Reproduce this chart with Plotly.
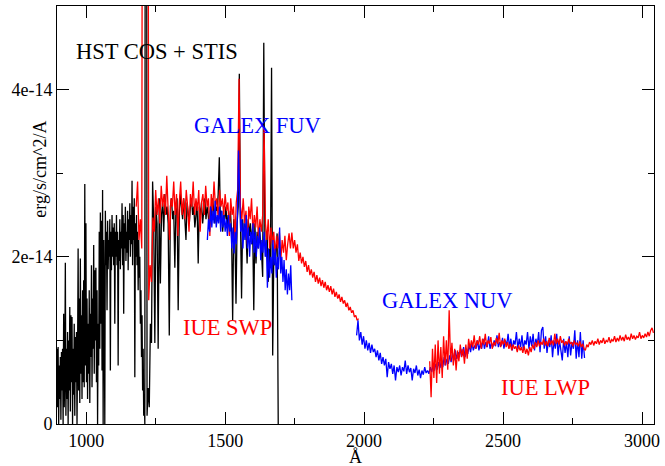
import numpy as np
import plotly.graph_objects as go

# ---------------- data (flux in units of 1e-14 erg/s/cm^2/A) ----------------
# HST COS + STIS, short-wavelength part (fine sampling)
hst_a_start, hst_a_step = 895, 2
hst_a_flux = [
    0.9, 0.2, 0.92, 0.0, 0.7, 0.3, 0.8, 0.05, 0.86, 0.4,
    0.9, 0.0, 1.32, 0.2, 0.6, 1.93, 0.1, 0.9, 0.3, 1.1,
    0.0, 1.0, 0.4, 1.4, 0.15, 1.3, 0.5, 1.28, 0.0, 0.9,
    0.35, 1.2, 0.1, 1.04, 0.5, 1.1, 0.0, 0.8, 2.1, 0.4,
    1.5, 0.25, 1.98, 0.6, 1.3, 0.3, 1.6, 0.5, 1.72, 0.44,
    2.87, 0.7, 2.4, 0.5, 1.5, 0.3, 1.2, 0.6, 1.6, 0.25,
    1.32, 0.8, 1.9, 0.44, 1.5, 0.9, 2.14, 0.6, 1.84, 1.0,
    1.87, 0.5, 1.6, 0.0, 1.2, 0.7, 2.3, 0.9, 2.53, 1.2,
    2.43, 0.64, 2.8, 0.0, 2.2, 1.4, 0.0, 2.55, 1.9, 2.3,
    1.36, 2.43, 1.85, 2.2, 2.0, 2.45, 0.64, 2.3, 1.84, 2.5,
    2.0, 2.35, 1.9, 2.4, 1.2, 2.3, 2.0, 2.5, 1.9, 2.3,
    0.7, 2.2, 1.95, 2.45, 1.85, 2.3, 2.1, 2.64, 1.9, 2.5,
    1.32, 2.4, 2.1, 2.6, 1.95, 2.3, 2.05, 2.55, 1.84, 2.45,
    2.2, 2.64, 2.0, 2.5, 2.15, 2.91, 1.9, 2.6, 2.2, 2.7,
    0.56, 2.4, 2.0, 2.5, 1.9, 2.3, 1.6, 2.2, 1.75, 2.0,
    1.2, 1.6, 0.8, 1.3, 0.4, 0.9, 0.1, 0.3, 0.0,
]
# HST COS + STIS, long-wavelength part
hst_b_start, hst_b_step = 1215, 4
hst_b_flux = [
    20.0, 0.1, 0.43, 0.2, 1.2, 0.97, 2.9, 2.4, 0.97, 2.6,
    2.4, 0.9, 2.7, 1.68, 2.5, 2.65, 2.3, 2.75, 2.5, 2.6,
    2.4, 1.06, 2.6, 2.7, 2.45, 2.55, 1.87, 2.6, 2.7, 1.36,
    2.5, 2.75, 2.6, 2.45, 2.7, 2.5, 2.2, 2.65, 2.55, 2.4,
    2.6, 2.7, 2.5, 2.6, 2.35, 2.55, 2.65, 1.92, 2.6, 2.5,
    2.65, 2.4, 2.55, 2.7, 2.45, 2.6, 2.5, 2.35, 2.6, 2.45,
    2.7, 2.5, 2.4, 2.6, 2.55, 2.75, 3.19, 2.4, 2.55, 2.3,
    2.5, 2.45, 2.6, 2.35, 2.5, 2.4, 2.55, 2.3, 1.24, 2.45,
    2.3, 1.44, 2.4, 2.6, 4.19, 2.5, 1.5, 2.45, 2.2, 2.4,
    2.3, 1.92, 2.45, 2.25, 2.4, 2.15, 2.35, 1.36, 2.4, 1.92,
    2.3, 2.1, 2.35, 2.2, 2.05, 1.76, 4.56, 2.2, 2.0, 2.3,
    1.7, 2.1, 1.9, 4.26, 0.82, 2.0, 1.9, 2.1, 2.28, 0.0,
]

swp_start, swp_step = 1180, 5
swp_flux = [
    2.6, 2.9, 2.2, 2.45, 2.1, 15.0, 15.0, 15.0, 15.0, 1.48,
    1.9, 1.7, 2.47, 2.3, 2.8, 2.5, 2.7, 2.4, 2.85, 2.6,
    2.75, 2.5, 2.97, 2.55, 2.2, 2.7, 2.6, 2.9, 2.5, 2.75,
    2.25, 2.65, 2.9, 2.5, 2.7, 2.45, 2.8, 2.6, 2.3, 2.75,
    2.6, 2.9, 2.5, 2.7, 2.55, 2.8, 2.3, 2.65, 2.75, 2.5,
    2.85, 2.6, 2.7, 2.25, 2.75, 2.55, 2.9, 2.6, 2.7, 2.45,
    2.8, 2.6, 2.7, 2.5, 2.75, 2.55, 2.65, 2.25, 2.7, 2.5,
    2.6, 2.2, 2.65, 2.8, 4.13, 2.6, 2.45, 2.7, 2.4, 2.55,
    2.15, 2.6, 2.45, 2.7, 2.3, 2.5, 2.35, 2.6, 2.2, 2.45,
    2.3, 2.5, 3.55, 2.4, 2.2, 2.45, 2.1, 2.35, 2.15, 2.3,
    2.0, 2.25, 2.1, 2.3, 1.95, 2.2, 2.05, 2.25, 1.96, 2.15,
    2.28, 2.1, 2.29, 2.1, 2.2, 2.05, 2.15, 1.95, 2.05, 1.92,
    2.0, 1.88, 1.95, 1.82, 1.9, 1.78, 1.85, 1.75, 1.82, 1.7,
    1.78, 1.68, 1.75, 1.65, 1.72, 1.63, 1.7, 1.6, 1.66, 1.58,
    1.65, 1.55, 1.62, 1.52, 1.58, 1.5, 1.55, 1.46, 1.52, 1.44,
    1.48, 1.4, 1.45, 1.36, 1.4, 1.33, 1.36, 1.28, 1.3, 1.24,
    1.26,
]

fuv_start, fuv_step = 1436, 4
fuv_flux = [
    2.2, 2.45, 2.3, 2.6, 2.35, 2.55, 2.4, 2.67, 2.35, 2.5,
    2.4, 2.6, 2.3, 2.55, 2.35, 2.5, 2.3, 2.45, 2.25, 2.5,
    2.3, 2.4, 2.1, 2.35, 2.04, 2.3, 2.15, 2.5, 3.27, 2.6,
    2.3, 2.45, 2.1, 2.4, 2.2, 2.5, 2.1, 2.35, 2.0, 2.3,
    2.15, 2.4, 2.05, 2.3, 2.0, 2.25, 2.1, 2.35, 1.96, 2.2,
    2.05, 2.3, 2.0, 2.2, 1.63, 2.1, 1.75, 2.0, 1.8, 2.2,
    1.9, 2.1, 1.75, 2.0, 1.85, 2.35, 1.8, 2.0, 1.7, 1.96,
    1.6, 1.85, 1.55, 1.8, 1.6, 1.9, 1.48,
]

nuv_start, nuv_step = 1973, 5
nuv_flux = [
    1.06, 1.24, 1.0, 1.1, 0.95, 1.05, 0.9, 1.0, 0.88, 0.97,
    0.85, 0.95, 0.86, 0.9, 0.8, 0.88, 0.76, 0.85, 0.72, 0.8,
    0.7, 0.78, 0.56, 0.74, 0.66, 0.72, 0.6, 0.7, 0.52, 0.68,
    0.62, 0.7, 0.58, 0.68, 0.63, 0.76, 0.6, 0.7, 0.62, 0.67,
    0.52, 0.66, 0.61, 0.7, 0.58, 0.65, 0.55, 0.64, 0.59, 0.68,
    0.61, 0.64, 0.6, 0.68, 0.62, 0.7, 0.64, 0.72, 0.65, 0.74,
    0.67, 0.76, 0.68, 0.8, 0.7, 0.78, 0.72, 0.82, 0.74, 0.85,
    0.76, 0.88, 0.78, 0.86, 0.8, 0.9, 0.82, 0.92, 0.8, 0.9,
    0.84, 0.95, 0.86, 0.97, 0.88, 0.94, 0.9, 1.0, 0.88, 0.96,
    0.9, 1.02, 0.9, 0.98, 0.92, 1.05, 0.9, 0.97, 0.92, 1.0,
    0.93, 1.06, 0.92, 0.98, 0.93, 1.03, 0.9, 1.0, 0.94, 1.08,
    0.92, 1.02, 0.88, 1.0, 0.95, 1.1, 0.9, 1.02, 0.92, 1.06,
    0.88, 1.0, 0.95, 1.1, 0.9, 1.05, 0.93, 1.08, 0.88, 1.02,
    0.94, 1.1, 0.86, 1.12, 1.16, 0.9, 1.05, 0.85, 1.0, 0.92,
    1.06, 0.8, 1.0, 0.9, 1.08, 0.82, 1.0, 0.88, 0.76, 1.02,
    0.85, 0.98, 0.8, 1.05, 0.82, 0.98, 0.9, 1.12, 0.78, 1.0,
    0.8, 1.1, 0.78, 1.0, 0.79,
]

lwp_start, lwp_step = 2236, 5
lwp_flux = [
    0.75, 0.32, 0.9, 0.55, 0.95, 0.49, 1.0, 0.6, 0.92, 0.55,
    1.05, 0.7, 1.0, 0.65, 1.36, 0.75, 0.97, 0.7, 0.9, 0.64,
    0.88, 0.75, 0.95, 0.8, 0.9, 0.72, 0.95, 0.78, 1.02, 0.9,
    1.0, 0.92, 1.06, 0.9, 1.0, 0.95, 1.05, 0.9, 1.02, 0.95,
    1.08, 0.92, 1.0, 0.96, 1.04, 0.9, 0.98, 0.94, 1.03, 0.96,
    1.09, 0.92, 1.0, 0.95, 1.02, 0.92, 0.98, 0.9, 0.96, 0.88,
    0.95, 0.9, 0.93, 0.86, 0.94, 0.88, 0.92, 0.85, 0.93, 0.84,
    0.9, 0.82, 0.92, 0.86, 0.95, 0.9, 0.98, 0.92, 1.0, 0.93,
    0.98, 0.95, 1.02, 0.94, 0.99, 0.93, 1.03, 0.95, 1.0, 0.94,
    1.08, 0.96, 1.02, 0.95, 1.05, 0.97, 1.0, 0.94, 0.99, 0.95,
    1.02, 0.96, 0.98, 0.93, 1.0, 0.95, 0.97, 0.93, 0.99, 0.92,
    0.96, 0.9, 0.88, 0.95, 0.92, 0.98, 0.95, 1.0, 0.94, 0.99,
    0.96, 1.02, 0.95, 1.0, 0.97, 1.03, 0.96, 1.0, 0.98, 1.04,
    0.97, 1.01, 0.99, 1.05, 0.98, 1.03, 0.99, 1.06, 1.0, 1.04,
    0.99, 1.07, 1.01, 1.04, 1.0, 1.08, 1.02, 1.06, 1.01, 1.05,
    1.03, 1.1, 1.02, 1.06, 1.03, 1.08, 1.04, 1.1, 1.05, 1.12,
    1.15, 1.09,
]

x_tick_vals = [1000, 1500, 2000, 2500, 3000]
y_tick_vals = [0, 2e-14, 4e-14]
y_tick_text = ["0", "2e-14", "4e-14"]

labels = ["HST COS + STIS", "GALEX FUV", "IUE SWP", "GALEX NUV", "IUE LWP"]
label_colors = ["black", "blue", "red", "blue", "red"]
label_x = [1255, 1617, 1507, 2299, 2652]
label_y = [4.45e-14, 3.57e-14, 1.15e-14, 1.48e-14, 0.44e-14]

UNIT = 1e-14


def wl(start, step, vals):
    return start + step * np.arange(len(vals))


hst_x = np.concatenate([wl(hst_a_start, hst_a_step, hst_a_flux),
                        wl(hst_b_start, hst_b_step, hst_b_flux)])
hst_y = np.array(hst_a_flux + hst_b_flux) * UNIT

series = [
    (hst_x, hst_y, "black"),
    (wl(swp_start, swp_step, swp_flux), np.array(swp_flux) * UNIT, "red"),
    (wl(fuv_start, fuv_step, fuv_flux), np.array(fuv_flux) * UNIT, "blue"),
    (wl(nuv_start, nuv_step, nuv_flux), np.array(nuv_flux) * UNIT, "blue"),
    (wl(lwp_start, lwp_step, lwp_flux), np.array(lwp_flux) * UNIT, "red"),
]

fig = go.Figure()
for xs, ys, col in series:
    fig.add_trace(go.Scatter(
        x=xs, y=ys, mode="lines",
        line=dict(color=col, width=1.3), showlegend=False, hoverinfo="skip"))

FONT = "Liberation Serif"

for t, c, lx, ly in zip(labels, label_colors, label_x, label_y):
    fig.add_annotation(x=lx, y=ly, xref="x", yref="y", text=t, showarrow=False,
                       font=dict(family=FONT, size=22.5, color=c),
                       xanchor="center", yanchor="middle")

fig.add_annotation(x=-0.0284, y=0.6086, xref="paper", yref="paper",
                   text="erg/s/cm^2/A", textangle=-90, showarrow=False,
                   font=dict(family=FONT, size=18, color="black"),
                   xanchor="center", yanchor="middle")
fig.add_annotation(x=0.5008, y=-0.08, xref="paper", yref="paper",
                   text="Å", showarrow=False,
                   font=dict(family=FONT, size=18, color="black"),
                   xanchor="center", yanchor="middle", borderpad=0)

axis_common = dict(showline=True, linecolor="black", linewidth=1, mirror="ticks",
                   ticks="inside", ticklen=12, tickcolor="black", tickwidth=1,
                   showgrid=False, zeroline=False,
                   tickfont=dict(family=FONT, size=18, color="black"))

fig.update_xaxes(range=[895, 3043], tickmode="array", tickvals=x_tick_vals,
                 minor=dict(tickmode="linear", tick0=0, dtick=250, ticks="inside",
                            ticklen=6, tickcolor="black"),
                 **axis_common)
fig.update_yaxes(range=[0, 5e-14], tickmode="array", tickvals=y_tick_vals,
                 ticktext=y_tick_text,
                 minor=dict(tickmode="linear", tick0=0, dtick=1e-14, ticks="inside",
                            ticklen=6, tickcolor="black"),
                 **axis_common)

fig.update_layout(width=665, height=466,
                  margin=dict(l=57, r=9, t=5, b=42),
                  plot_bgcolor="white", paper_bgcolor="white",
                  font=dict(family=FONT))

fig.write_html("out.html")
